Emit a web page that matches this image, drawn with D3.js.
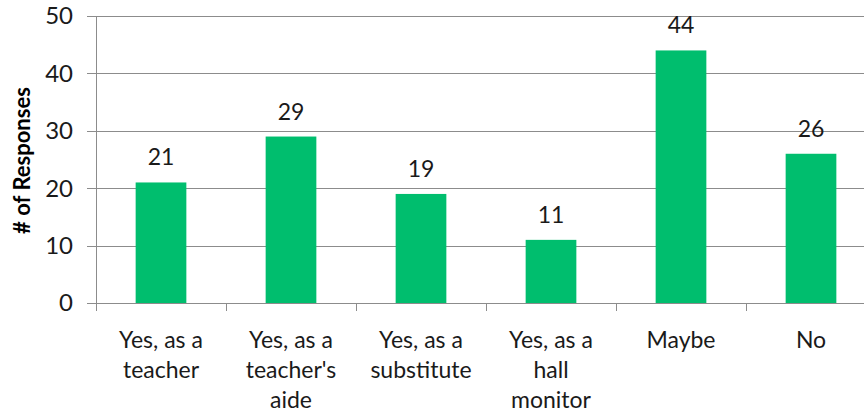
<!DOCTYPE html>
<html>
<head>
<meta charset="utf-8">
<script src="https://cdn.jsdelivr.net/npm/d3@7"></script>
<style>
  html, body { margin: 0; padding: 0; background: #fff; }
  svg { display: block; }
  text { font-family: Lato, "Open Sans", sans-serif; fill: #000; }
</style>
</head>
<body>
<svg id="chart" width="864" height="414"></svg>
<script>
const categories = ["Yes, as a teacher", "Yes, as a teacher's aide", "Yes, as a substitute", "Yes, as a hall monitor", "Maybe", "No"];
const categoryLines = [["Yes, as a", "teacher"], ["Yes, as a", "teacher's", "aide"], ["Yes, as a", "substitute"], ["Yes, as a", "hall", "monitor"], ["Maybe"], ["No"]];
const responses = [21, 29, 19, 11, 44, 26];
const yTicks = [0, 10, 20, 30, 40, 50];
const yTitle = "# of Responses";

const svg = d3.select("#chart");
const mLeft = 96, mRight = 876, mTop = 16, mBottom = 303;

const x = d3.scaleBand().domain(categories).range([mLeft, mRight]).paddingInner(0.61).paddingOuter(0.305);
const xCat = d3.scaleBand().domain(categories).range([mLeft, mRight]).padding(0);
const y = d3.scaleLinear().domain([0, 50]).range([mBottom, mTop]);

// gridlines
svg.append("g").selectAll("line").data(yTicks).join("line")
  .attr("x1", mLeft - 9).attr("x2", 864)
  .attr("y1", d => Math.round(y(d)) + 0.5).attr("y2", d => Math.round(y(d)) + 0.5)
  .attr("stroke", "#8c8c8c").attr("stroke-width", 1);

// y axis line
svg.append("line").attr("x1", mLeft + 0.5).attr("x2", mLeft + 0.5)
  .attr("y1", mTop).attr("y2", mBottom + 8).attr("stroke", "#8c8c8c");

// x category ticks
svg.append("g").selectAll("line").data(categories).join("line")
  .attr("x1", d => Math.round(xCat(d)) + 0.5).attr("x2", d => Math.round(xCat(d)) + 0.5)
  .attr("y1", mBottom).attr("y2", mBottom + 8).attr("stroke", "#8c8c8c");

// y tick labels
svg.append("g").selectAll("text").data(yTicks).join("text")
  .attr("x", mLeft - 23).attr("y", d => y(d))
  .attr("dy", "0.35em").attr("text-anchor", "end")
  .style("font-size", "24px").style("fill", "#1a1a1a")
  .text(d => d);

// bars
svg.append("g").selectAll("rect").data(categories).join("rect")
  .attr("x", d => x(d)).attr("width", x.bandwidth())
  .attr("y", (d, i) => y(responses[i])).attr("height", (d, i) => mBottom - y(responses[i]))
  .attr("fill", "#00be6e");

// data labels
svg.append("g").selectAll("text").data(categories).join("text")
  .attr("x", d => x(d) + x.bandwidth() / 2)
  .attr("y", (d, i) => y(responses[i]) - 17)
  .attr("text-anchor", "middle")
  .style("font-size", "23px").style("fill", "#1a1a1a")
  .text((d, i) => responses[i]);

// category labels
const cl = svg.append("g").selectAll("text").data(categories).join("text")
  .attr("text-anchor", "middle")
  .style("font-size", "23px").style("fill", "#1a1a1a");
cl.each(function(d, i) {
  const t = d3.select(this);
  categoryLines[i].forEach((line, j) => {
    t.append("tspan").attr("x", xCat(d) + xCat.bandwidth() / 2)
      .attr("y", 348 + j * 30).text(line);
  });
});

// y title
svg.append("text")
  .attr("transform", `translate(30,${(mTop + mBottom) / 2 + 1}) rotate(-90)`)
  .attr("text-anchor", "middle")
  .style("font-size", "22px").style("font-weight", "bold")
  .text(yTitle);
</script>
</body>
</html>
